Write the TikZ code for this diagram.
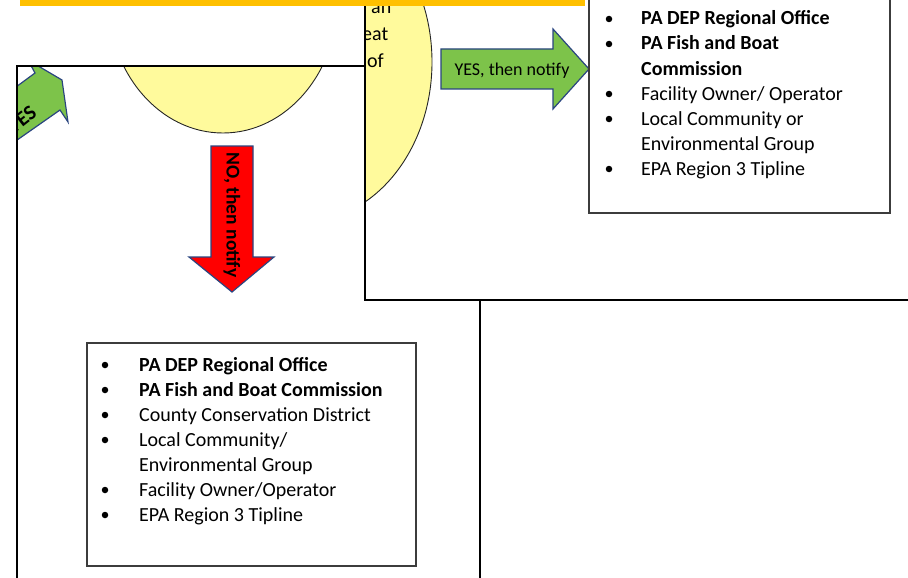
\documentclass[tikz,border=0pt]{standalone}
\usepackage{fontspec}
\setmainfont{Carlito}
\definecolor{barorange}{HTML}{FFC000}
\definecolor{ovalyellow}{HTML}{FFFA9C}
\definecolor{yesgreen}{HTML}{7DC34A}
\definecolor{arrowblue}{HTML}{2A4580}
\definecolor{boxgray}{HTML}{3C3C3C}
\tikzset{
  frameline/.style={line width=2.2pt, black},
  listbox/.style={draw=boxgray, line width=1.4pt},
  oval/.style={fill=ovalyellow, draw=black!85, line width=0.9pt},
  blockarrow/.style={draw=arrowblue, line width=1.2pt, line join=miter},
  item/.style={anchor=base west, inner sep=0pt, font=\fontsize{20}{24}\selectfont},
  bolditem/.style={item, font=\fontsize{20}{24}\selectfont\bfseries},
  arrowtext/.style={inner sep=0pt, font=\fontsize{18}{22}\selectfont},
  dot/.style={circle, fill, inner sep=0pt, minimum size=6.5pt},
}
\begin{document}
\begin{tikzpicture}[x=1pt,y=-1pt]
\useasboundingbox (0,0) rectangle (908,578);
% left page
\begin{scope}
\clip (17,66) rectangle (480,590);
\draw[oval] (223,-2) ellipse [x radius=115, y radius=135];
\filldraw[blockarrow, fill=yesgreen] (-3,101) -- (35,73) -- (28,60) -- (62,80) -- (68,122) -- (60,110) -- (-10,159) -- cycle;
\node[arrowtext, font=\fontsize{21}{24}\selectfont\bfseries, rotate=38, anchor=east] (yesleft) at (34,110) {YES};
\filldraw[blockarrow, fill=red] (211,146) -- (253,146) -- (253,257) -- (274,257) -- (232,292) -- (189,257) -- (211,257) -- cycle;
\node[arrowtext, font=\fontsize{19.5}{22}\selectfont\bfseries, rotate=-90] (notext) at (232,215) {NO, then notify};
\draw[listbox] (87,343) rectangle (416,566);
\node[dot] (ldot1) at (105,365) {};
\node[dot] (ldot2) at (105,390) {};
\node[dot] (ldot3) at (105,415) {};
\node[dot] (ldot4) at (105,440) {};
\node[dot] (ldot5) at (105,490) {};
\node[dot] (ldot6) at (105,515) {};
\node[bolditem] (ldep) at (139,371) {PA DEP Regional Office};
\node[bolditem] (lfish) at (139,396) {PA Fish and Boat Commission};
\node[item] (lcounty) at (139,421) {County Conservation District};
\node[item] (llocal) at (139,446) {Local Community/};
\node[item] (lenv) at (139,471) {Environmental Group};
\node[item] (lowner) at (139,496) {Facility Owner/Operator};
\node[item] (lepa) at (139,521) {EPA Region 3 Tipline};
\end{scope}
\draw[frameline] (17,590) -- (17,66) -- (480,66) -- (480,590);
% right page
\fill[white] (365,-10) rectangle (920,300);
\begin{scope}
\clip (365,-10) rectangle (920,300);
\draw[oval] (302,62) ellipse [x radius=130, y radius=160];
\node[item] (ovalan) at (371,14) {an};
\node[item] (ovaleat) at (362,41) {eat};
\node[item] (ovalof) at (367,68) {of};
\filldraw[blockarrow, fill=yesgreen] (441,49) -- (553,49) -- (553,29) -- (589,69) -- (553,109) -- (553,89) -- (441,89) -- cycle;
\node[arrowtext, anchor=base] (yestext) at (512,76) {YES, then notify};
\draw[listbox] (589,-20) rectangle (890,213);
\node[dot] (rdot1) at (609,19) {};
\node[dot] (rdot2) at (609,44) {};
\node[dot] (rdot3) at (609,94) {};
\node[dot] (rdot4) at (609,119) {};
\node[dot] (rdot5) at (609,169) {};
\node[bolditem] (rdep) at (641,25) {PA DEP Regional Office};
\node[bolditem] (rfish) at (641,50) {PA Fish and Boat};
\node[bolditem] (rcomm) at (641,75) {Commission};
\node[item] (rowner) at (641,100) {Facility Owner/ Operator};
\node[item] (rlocal) at (641,125) {Local Community or};
\node[item] (renv) at (641,150) {Environmental Group};
\node[item] (repa) at (641,175) {EPA Region 3 Tipline};
\end{scope}
\draw[frameline] (365,-10) -- (365,300) -- (920,300);
% top bar
\fill[barorange] (20,0) rectangle (585,6);
\end{tikzpicture}
\end{document}
